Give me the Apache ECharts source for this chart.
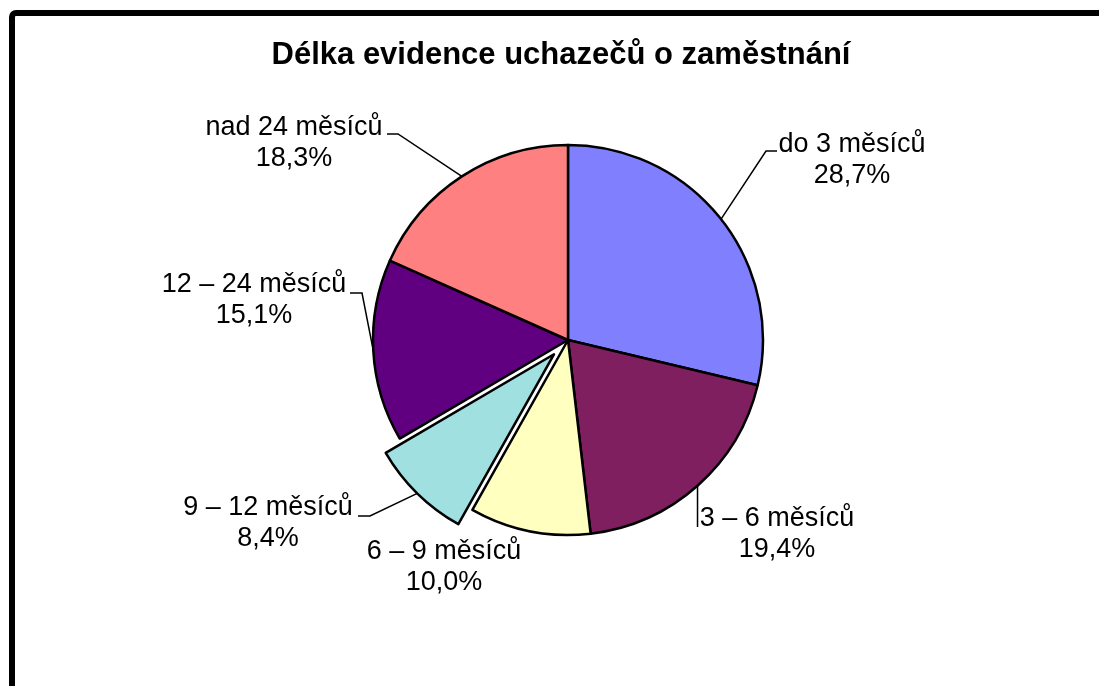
<!DOCTYPE html>
<html lang="cs">

<head>
  <meta charset="UTF-8">
  <title>Délka evidence uchazečů o zaměstnání</title>
  <script src="https://cdn.jsdelivr.net/npm/echarts@6.0.0/dist/echarts.min.js"></script>
  <style>
    html, body { margin: 0; padding: 0; background: #fff; }
    #chart { width: 1099px; height: 686px; }
  </style>
</head>

<body>
  <div id="chart"></div>
  <script>
    let categories = ['do 3 měsíců', '3 – 6 měsíců', '6 – 9 měsíců', '9 – 12 měsíců', '12 – 24 měsíců', 'nad 24 měsíců'];
    let shares = [28.7, 19.4, 10.0, 8.4, 15.1, 18.3];
    let colors = ['#8080FF', '#7F1F5F', '#FFFFC0', '#A0E0E0', '#600080', '#FF8080'];
    let exploded = 3; // '9 – 12 měsíců' is pulled out of the pie
  </script>
  <script>
    let pieCenter = [568, 340];
    let explodeBy = 20;
    let fontFamily = '"Liberation Sans", Arial, sans-serif';

    // where each label block sits (center) and where its leader line bends
    let labelPos = [
      { x: 852, y: 160, bend: [[766, 151], [777, 151]] },
      { x: 777, y: 534, bend: 'down' },
      { x: 444, y: 567, bend: null },
      { x: 268, y: 523, bend: [[370, 516], [358, 516]] },
      { x: 254, y: 300, bend: [[362, 293], [350, 293]] },
      { x: 294, y: 143, bend: [[398, 134], [387, 134]] }
    ];

    // direction of the exploded slice (mid angle, clockwise from top)
    let total = shares.reduce((a, b) => a + b, 0);
    let before = shares.slice(0, exploded).reduce((a, b) => a + b, 0);
    let midAngle = (before + shares[exploded] / 2) / total * 2 * Math.PI;
    let shiftedCenter = [
      pieCenter[0] + explodeBy * Math.sin(midAngle),
      pieCenter[1] - explodeBy * Math.cos(midAngle)
    ];

    function layoutLabel(params) {
      let pos = labelPos[params.dataIndex];
      let out = { x: pos.x, y: pos.y, align: 'center', verticalAlign: 'middle' };
      let p0 = params.labelLinePoints ? params.labelLinePoints[0] : null;
      if (p0 && pos.bend === 'down') {
        out.labelLinePoints = [p0, [p0[0], 527], [p0[0], 527]];
      } else if (p0 && pos.bend) {
        out.labelLinePoints = [p0, pos.bend[0], pos.bend[1]];
      }
      return out;
    }

    function makeSeries(center, visible) {
      return {
        type: 'pie',
        center: center,
        radius: 195,
        startAngle: 90,
        clockwise: true,
        selectedMode: false,
        emphasis: { disabled: true },
        label: {
          show: true,
          position: 'outside',
          color: '#000',
          fontSize: 27,
          lineHeight: 31,
          fontFamily: fontFamily,
          formatter: p => p.name + '\n' + p.value.toFixed(1).replace('.', ',') + '%'
        },
        labelLine: { show: true, lineStyle: { color: '#000', width: 1.5 } },
        labelLayout: layoutLabel,
        data: categories.map((name, i) => {
          let on = visible(i);
          return {
            name: name,
            value: shares[i],
            itemStyle: on
              ? { color: colors[i], borderColor: '#000', borderWidth: 2.5 }
              : { color: 'rgba(0,0,0,0)', borderWidth: 0 },
            label: { show: on },
            labelLine: { show: on && i !== 2 }
          };
        })
      };
    }

    let dom = document.getElementById('chart');
    let chart = echarts.init(dom);

    let option = {
      animation: false,
      backgroundColor: '#fff',
      graphic: [
        {
          type: 'rect',
          shape: { x: 12, y: 13, width: 1300, height: 900, r: 4 },
          style: { fill: 'none', stroke: '#000', lineWidth: 6 },
          silent: true
        },
        {
          type: 'text',
          style: {
            x: 561, y: 55,
            text: 'Délka evidence uchazečů o zaměstnání',
            textAlign: 'center', textVerticalAlign: 'middle',
            fill: '#000',
            font: 'bold 31px ' + fontFamily
          },
          silent: true
        }
      ],
      series: [
        makeSeries(pieCenter, i => i !== exploded),
        makeSeries(shiftedCenter, i => i === exploded)
      ]
    };

    chart.setOption(option);
  </script>
</body>

</html>
